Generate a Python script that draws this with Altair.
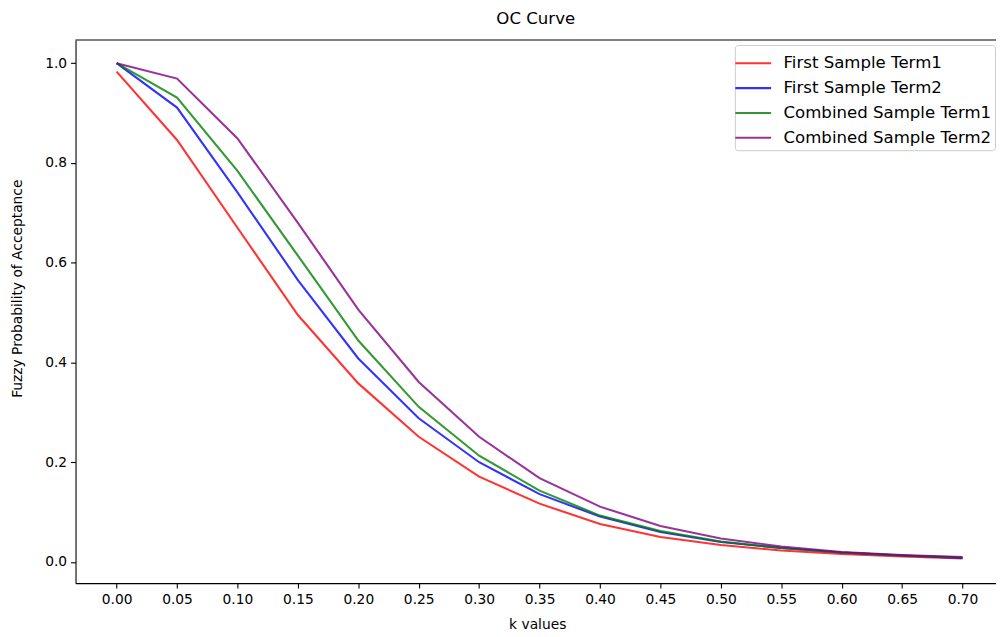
import altair as alt
import pandas as pd

k_values = [0.00, 0.05, 0.10, 0.15, 0.20, 0.25, 0.30, 0.35, 0.40, 0.45, 0.50, 0.55, 0.60, 0.65, 0.70]
first_term1 = [0.983, 0.846, 0.670, 0.495, 0.358, 0.251, 0.171, 0.117, 0.076, 0.050, 0.034, 0.023, 0.016, 0.011, 0.007]
first_term2 = [1.000, 0.911, 0.741, 0.565, 0.408, 0.288, 0.200, 0.136, 0.091, 0.060, 0.040, 0.028, 0.019, 0.013, 0.008]
combined_term1 = [1.000, 0.931, 0.784, 0.614, 0.444, 0.311, 0.213, 0.143, 0.093, 0.062, 0.041, 0.028, 0.019, 0.013, 0.009]
combined_term2 = [1.000, 0.969, 0.849, 0.680, 0.506, 0.361, 0.251, 0.168, 0.111, 0.072, 0.047, 0.031, 0.020, 0.014, 0.010]

series_names = ["First Sample Term1", "First Sample Term2", "Combined Sample Term1", "Combined Sample Term2"]
series_colors = ["#ff0000", "#0000ff", "#008000", "#800080"]
y_ticks = [0.0, 0.2, 0.4, 0.6, 0.8, 1.0]

rows = []
for name, vals in zip(series_names, [first_term1, first_term2, combined_term1, combined_term2]):
    for k, v in zip(k_values, vals):
        rows.append({"k": k, "p": v, "series": name})
df = pd.DataFrame(rows)

FONT = "DejaVu Sans"
W, H = 927, 547

lines = alt.Chart(df).mark_line(strokeWidth=2.1, opacity=0.8, clip=True).encode(
    x=alt.X("k:Q",
            scale=alt.Scale(domain=[-0.034, 0.7277], nice=False, zero=False),
            axis=alt.Axis(values=k_values, format=".2f", title="k values",
                          titleX=465, titleY=42, titleBaseline="middle", titleAlign="center")),
    y=alt.Y("p:Q",
            scale=alt.Scale(domain=[-0.0424, 1.0464], nice=False, zero=False),
            axis=alt.Axis(values=y_ticks, format=".1f", title="Fuzzy Probability of Acceptance",
                          titleX=-58, titleY=250, titleBaseline="middle", titleAlign="center")),
    color=alt.Color("series:N",
                    scale=alt.Scale(domain=series_names, range=series_colors),
                    legend=alt.Legend(title=None, orient="none", legendX=664, legendY=5,
                                      fillColor="white", strokeColor="#cccccc", cornerRadius=3,
                                      padding=3, symbolType="M-1.26,0H1.26", symbolSize=818,
                                      symbolStrokeWidth=2.1, symbolOpacity=0.8,
                                      labelFontSize=16.7, labelFont=FONT, labelColor="#000000",
                                      labelOffset=15, rowPadding=0, labelLimit=400)),
)

top_border = alt.Chart(pd.DataFrame({"a": [0]})).mark_rule(color="#000000", strokeWidth=1.1).encode(
    x=alt.value(0), x2=alt.value(W), y=alt.value(0)
)

chart = alt.layer(lines, top_border).properties(
    width=W, height=H,
    background="white",
    title=alt.TitleParams("OC Curve", fontSize=16.7, font=FONT, fontWeight="normal",
                          color="#000000", anchor="middle", baseline="alphabetic", offset=12, dy=13),
    autosize=alt.AutoSizeParams(type="none"),
    padding={"left": 68, "top": 30, "right": 0, "bottom": 50},
).configure_view(stroke=None).configure_axis(
    grid=False, domainColor="#000000", domainWidth=1.1, tickColor="#000000", tickWidth=1.1,
    tickSize=5, labelPadding=4, labelFont=FONT, labelFontSize=13.9, labelColor="#000000",
    titleFont=FONT, titleFontSize=13.9, titleFontWeight="normal", titleColor="#000000"
)

chart.save("out.html", embed_options={"renderer": "svg", "actions": False})
